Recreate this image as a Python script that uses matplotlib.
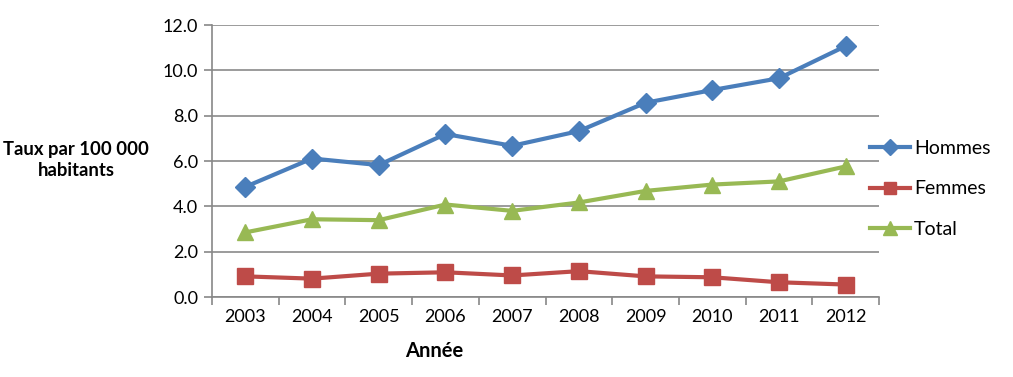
import numpy as np
import matplotlib.pyplot as plt

annees = ['2003', '2004', '2005', '2006', '2007', '2008', '2009', '2010', '2011', '2012']
hommes = [4.86, 6.11, 5.82, 7.19, 6.67, 7.32, 8.57, 9.13, 9.65, 11.07]
femmes = [0.91, 0.81, 1.03, 1.09, 0.95, 1.14, 0.91, 0.87, 0.65, 0.55]
total = [2.85, 3.43, 3.39, 4.08, 3.80, 4.17, 4.68, 4.96, 5.10, 5.76]

plt.rcParams['font.family'] = ['Lato', 'DejaVu Sans']

fig = plt.figure(figsize=(10.13, 3.77), dpi=100)
ax = fig.add_axes([212/1013, 1 - 297/377, (879-212)/1013, (297-25)/377])

x = np.arange(len(annees))
ax.plot(x, hommes, color='#4A7EBB', lw=3, marker='D', ms=10, label='Hommes')
ax.plot(x, femmes, color='#BE4B48', lw=3, marker='s', ms=11, label='Femmes')
ax.plot(x, total, color='#98B954', lw=3, marker='^', ms=12, label='Total')

ax.set_xlim(-0.5, len(annees) - 0.5)
ax.set_ylim(0, 12)
ax.set_yticks(np.arange(0, 12.1, 2))
ax.set_yticklabels([f"{v:.1f}" for v in np.arange(0, 12.1, 2)])
ax.set_xticks(x)
ax.set_xticklabels(annees)
ax.set_xticks(np.arange(-0.5, len(annees)), minor=True)
ax.tick_params(axis='x', which='major', length=0, pad=9, labelsize=13)
ax.tick_params(axis='x', which='minor', length=6, color='#888888', width=1.2)
ax.tick_params(axis='y', length=6, color='#888888', width=1.2, labelsize=13, pad=4)
ax.grid(axis='y', color='#8a8a8a', lw=1.2)
ax.set_axisbelow(True)
for s in ['top', 'right']:
    ax.spines[s].set_visible(False)
for s in ['left', 'bottom']:
    ax.spines[s].set_color('#888888')
    ax.spines[s].set_linewidth(1.2)

fig.text(76/1013, 1 - 160/377, "Taux par 100 000\nhabitants", ha='center', va='center',
         fontsize=13.3, fontweight='bold', linespacing=1.35)
fig.text(434/1013, 1 - 351/377, "Année", ha='center', va='center', fontsize=14.5, fontweight='bold')

leg = ax.legend(loc='center left', bbox_to_anchor=(852/1013, 1 - 189/377), bbox_transform=fig.transFigure,
                frameon=False, fontsize=14, handlelength=2.1, handletextpad=0.2, labelspacing=1.2,
                markerscale=0.85)

fig.savefig('out.png', dpi=100)
